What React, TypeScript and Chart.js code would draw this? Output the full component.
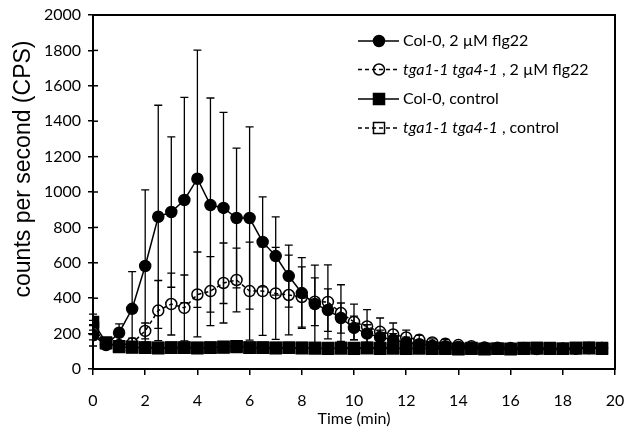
import React, { useEffect, useRef } from "react";
import { Chart, registerables } from "chart.js";

Chart.register(...registerables);

// ---------- data ----------
const times = [
  0, 0.5, 1, 1.5, 2, 2.5, 3, 3.5, 4, 4.5, 5, 5.5, 6, 6.5, 7, 7.5, 8, 8.5, 9, 9.5,
  10, 10.5, 11, 11.5, 12, 12.5, 13, 13.5, 14, 14.5, 15, 15.5, 16, 16.5, 17, 17.5, 18, 18.5, 19, 19.5,
];

const col0Flg22 = [
  190, 135, 205, 340, 582, 860, 887, 955, 1075, 926, 910, 853, 853, 718, 638, 525, 429, 367, 333, 288,
  232, 200, 180, 165, 150, 140, 132, 128, 125, 120, 118, 115, 115, 115, 113, 115, 115, 115, 118, 118,
];
const col0Flg22Err = [
  60, 20, 50, 210, 430, 630, 425, 580, 727, 605, 540, 395, 515, 254, 221, 175, 200, 220, 120, 85,
  67, 50, 40, 35, 30, 25, 20, 20, 15, 15, 10, 10, 10, 10, 10, 10, 10, 10, 10, 10,
];

const tgaFlg22 = [
  205, 140, 135, 145, 215, 330, 367, 345, 421, 440, 486, 503, 440, 440, 427, 418, 407, 380, 379, 316,
  266, 240, 210, 195, 178, 165, 150, 142, 135, 128, 122, 120, 118, 118, 115, 115, 115, 115, 118, 118,
];
const tgaFlg22Err = [
  40, 15, 15, 30, 45, 170, 175, 186, 240, 195, 226, 180, 277, 250, 260, 225, 170, 135, 209, 160,
  100, 95, 78, 65, 42, 25, 20, 25, 15, 10, 10, 10, 10, 10, 10, 10, 10, 10, 10, 10,
];

const col0Control = [
  265, 150, 125, 122, 120, 118, 122, 120, 118, 120, 125, 128, 122, 120, 118, 120, 118, 118, 115, 118,
  115, 118, 115, 118, 115, 118, 115, 115, 112, 115, 112, 115, 112, 115, 118, 115, 115, 118, 118, 115,
];
const col0ControlErr = [
  45, 15, 10, 8, 8, 8, 8, 8, 8, 8, 8, 8, 8, 8, 8, 8, 8, 8, 8, 8,
  8, 8, 8, 8, 8, 8, 8, 8, 8, 8, 8, 8, 8, 8, 8, 8, 8, 8, 8, 8,
];

const tgaControl = [
  235, 145, 128, 125, 122, 120, 120, 122, 120, 122, 122, 125, 120, 122, 120, 120, 120, 118, 118, 118,
  118, 120, 118, 118, 118, 118, 118, 118, 115, 118, 115, 115, 115, 118, 118, 118, 115, 118, 120, 118,
];
const tgaControlErr = [
  40, 15, 10, 8, 8, 8, 8, 8, 8, 8, 8, 8, 8, 8, 8, 8, 8, 8, 8, 8,
  8, 8, 8, 8, 8, 8, 8, 8, 8, 8, 8, 8, 8, 8, 8, 8, 8, 8, 8, 8,
];

const xTickValues = [0, 2, 4, 6, 8, 10, 12, 14, 16, 18, 20];
const yTickValues = [0, 200, 400, 600, 800, 1000, 1200, 1400, 1600, 1800, 2000];

const xTitle = "Time (min)";
const yTitle = "counts per second (CPS)";

type Part = { t: string; italic: boolean };
const legendItems: { parts: Part[]; dashed: boolean; shape: "circle" | "rect"; filled: boolean }[] = [
  { parts: [{ t: "Col-0, 2 µM flg22", italic: false }], dashed: false, shape: "circle", filled: true },
  {
    parts: [
      { t: "tga1-1 tga4-1", italic: true },
      { t: " , 2 µM flg22", italic: false },
    ],
    dashed: true,
    shape: "circle",
    filled: false,
  },
  { parts: [{ t: "Col-0, control", italic: false }], dashed: false, shape: "rect", filled: true },
  {
    parts: [
      { t: "tga1-1 tga4-1", italic: true },
      { t: " , control", italic: false },
    ],
    dashed: true,
    shape: "rect",
    filled: false,
  },
];

// ---------- style ----------
const FONT = "Lato";
const DASH = [4, 3];
const CIRCLE_R = 5.5;
const RECT_R = 7.8;

const toPoints = (ys: number[]) => times.map((t, i) => ({ x: t, y: ys[i] }));

const errorBarPlugin = {
  id: "errorBars",
  beforeDatasetsDraw(chart: any) {
    const { ctx } = chart;
    const xs = chart.scales.x;
    const ys = chart.scales.y;
    ctx.save();
    ctx.strokeStyle = "#000";
    ctx.lineWidth = 1.3;
    ctx.setLineDash([]);
    chart.data.datasets.forEach((ds: any) => {
      const errs: number[] = ds.errors || [];
      ds.data.forEach((p: any, j: number) => {
        const e = errs[j] || 0;
        if (!e) return;
        const px = xs.getPixelForValue(p.x);
        const top = ys.getPixelForValue(p.y + e);
        const bot = ys.getPixelForValue(Math.max(0, p.y - e));
        ctx.beginPath();
        ctx.moveTo(px, top);
        ctx.lineTo(px, bot);
        ctx.moveTo(px - 4, top);
        ctx.lineTo(px + 4, top);
        ctx.moveTo(px - 4, bot);
        ctx.lineTo(px + 4, bot);
        ctx.stroke();
      });
    });
    ctx.restore();
  },
};

const framePlugin = {
  id: "frame",
  afterDraw(chart: any) {
    const { ctx, chartArea } = chart;
    const ys = chart.scales.y;
    ctx.save();
    ctx.strokeStyle = "#000";
    ctx.lineWidth = 2;
    ctx.setLineDash([]);
    ctx.strokeRect(chartArea.left, chartArea.top, chartArea.right - chartArea.left, chartArea.bottom - chartArea.top);
    // inner parts of y ticks (ticks cross the axis)
    ctx.lineWidth = 1.5;
    yTickValues.forEach((v) => {
      const py = ys.getPixelForValue(v);
      ctx.beginPath();
      ctx.moveTo(chartArea.left, py);
      ctx.lineTo(chartArea.left + 5, py);
      ctx.stroke();
    });
    // y axis title
    ctx.save();
    ctx.translate(24, 169);
    ctx.rotate(-Math.PI / 2);
    ctx.fillStyle = "#000";
    ctx.font = "23px 'Liberation Sans'";
    ctx.textAlign = "center";
    ctx.textBaseline = "middle";
    ctx.fillText(yTitle, 0, 0);
    ctx.restore();
    ctx.restore();
  },
};

function drawMarker(ctx: CanvasRenderingContext2D, shape: string, filled: boolean, x: number, y: number) {
  ctx.save();
  ctx.setLineDash([]);
  ctx.lineWidth = 1.5;
  ctx.strokeStyle = "#000";
  ctx.fillStyle = "#000";
  ctx.beginPath();
  if (shape === "circle") {
    ctx.arc(x, y, CIRCLE_R, 0, Math.PI * 2);
  } else {
    const s = Math.SQRT1_2 * RECT_R;
    ctx.rect(x - s, y - s, 2 * s, 2 * s);
  }
  if (filled) ctx.fill();
  ctx.stroke();
  ctx.restore();
}

const legendPlugin = {
  id: "customLegend",
  afterDraw(chart: any) {
    const { ctx } = chart;
    const x0 = 358;
    const x1 = 399;
    const mx = 379;
    const tx = 403;
    const rowY = [41, 69.5, 99, 128];
    ctx.save();
    legendItems.forEach((item, i) => {
      const y = rowY[i];
      ctx.strokeStyle = "#000";
      ctx.lineWidth = 1.5;
      ctx.setLineDash(item.dashed ? DASH : []);
      ctx.beginPath();
      ctx.moveTo(x0, y);
      ctx.lineTo(x1, y);
      ctx.stroke();
      drawMarker(ctx, item.shape, item.filled, mx, y);
      let x = tx;
      ctx.fillStyle = "#000";
      ctx.textBaseline = "middle";
      ctx.textAlign = "left";
      item.parts.forEach((p) => {
        ctx.font = `${p.italic ? "italic " : ""}16px ${FONT}`;
        ctx.fillText(p.t, x, y);
        x += ctx.measureText(p.t).width;
      });
    });
    ctx.restore();
  },
};

export default function App() {
  const canvasRef = useRef<HTMLCanvasElement | null>(null);

  useEffect(() => {
    if (!canvasRef.current) return;
    const common = {
      borderColor: "#000",
      borderWidth: 1.5,
      pointBorderColor: "#000",
      pointBorderWidth: 1.5,
      pointHoverRadius: 0,
      tension: 0,
      fill: false,
    };
    const chart = new Chart(canvasRef.current, {
      type: "line",
      data: {
        datasets: [
          {
            ...common,
            label: "Col-0, 2 µM flg22",
            data: toPoints(col0Flg22),
            errors: col0Flg22Err,
            pointStyle: "circle",
            pointRadius: CIRCLE_R,
            pointBackgroundColor: "#000",
          } as any,
          {
            ...common,
            label: "tga1-1 tga4-1 , 2 µM flg22",
            data: toPoints(tgaFlg22),
            errors: tgaFlg22Err,
            borderDash: DASH,
            pointStyle: "circle",
            pointRadius: CIRCLE_R,
            pointBackgroundColor: "rgba(255,255,255,0)",
          } as any,
          {
            ...common,
            label: "Col-0, control",
            data: toPoints(col0Control),
            errors: col0ControlErr,
            pointStyle: "rect",
            pointRadius: RECT_R,
            pointBackgroundColor: "#000",
          } as any,
          {
            ...common,
            label: "tga1-1 tga4-1 , control",
            data: toPoints(tgaControl),
            errors: tgaControlErr,
            borderDash: DASH,
            pointStyle: "rect",
            pointRadius: RECT_R,
            pointBackgroundColor: "rgba(255,255,255,0)",
          } as any,
        ],
      },
      options: {
        animation: false,
        responsive: true,
        maintainAspectRatio: false,
        layout: { padding: { top: 15, right: 12, left: 0, bottom: 0 } },
        plugins: {
          legend: { display: false },
          tooltip: { enabled: false },
        },
        scales: {
          x: {
            type: "linear",
            min: 0,
            max: 20,
            afterFit: (s: any) => {
              s.height = 67;
              s.paddingLeft = 0;
              s.paddingRight = 0;
            },
            afterBuildTicks: (s: any) => {
              s.ticks = xTickValues.map((v) => ({ value: v }));
            },
            ticks: {
              color: "#000",
              font: { family: FONT, size: 16 },
              padding: 16,
              maxRotation: 0,
              callback: (v: any) => String(v),
            },
            grid: {
              display: true,
              drawOnChartArea: false,
              drawTicks: true,
              tickLength: 6,
              color: "#000",
              lineWidth: 1.5,
            },
            border: { display: false },
            title: {
              display: true,
              text: xTitle,
              color: "#000",
              font: { family: FONT, size: 16 },
              padding: { top: 0, bottom: 8 },
            },
          },
          y: {
            type: "linear",
            min: 0,
            max: 2000,
            afterFit: (s: any) => {
              s.width = 93;
              s.paddingTop = 0;
              s.paddingBottom = 0;
            },
            afterBuildTicks: (s: any) => {
              s.ticks = yTickValues.map((v) => ({ value: v }));
            },
            ticks: {
              color: "#000",
              font: { family: FONT, size: 16 },
              padding: 7,
              callback: (v: any) => String(v),
            },
            grid: {
              display: true,
              drawOnChartArea: false,
              drawTicks: true,
              tickLength: 5,
              color: "#000",
              lineWidth: 1.5,
            },
            border: { display: false },
            title: { display: false },
          },
        },
      } as any,
      plugins: [errorBarPlugin, framePlugin, legendPlugin],
    });
    return () => chart.destroy();
  }, []);

  return (
    <div style={{ position: "absolute", left: 0, top: 0, width: 627, height: 436 }}>
      <canvas ref={canvasRef} />
    </div>
  );
}
